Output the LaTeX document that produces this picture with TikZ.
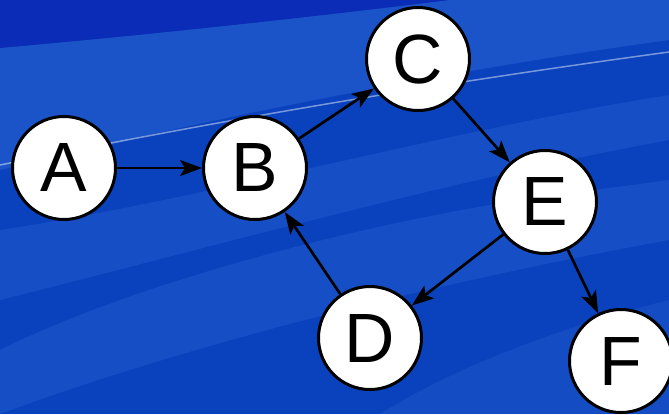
\documentclass[tikz,border=0pt]{standalone}
\usepackage{fontspec}
\setmainfont{Liberation Sans}
\usetikzlibrary{arrows.meta}
\definecolor{bgdark}{RGB}{10,44,182}
\definecolor{bgmid}{RGB}{10,66,190}
\definecolor{bglight}{RGB}{60,120,220}
\begin{document}
\begin{tikzpicture}[x=1bp,y=-1bp,
  vert/.style={circle,draw=black,fill=white,line width=3bp,minimum size=103bp,inner sep=0pt,
    font=\fontsize{70}{70}\selectfont},
  arr/.style={line width=2.7bp,-{Stealth[length=22bp,width=16bp,inset=5bp]}}]
\useasboundingbox (0,0) rectangle (669,414);
% background
\fill[bgmid] (0,0) rectangle (669,414);
\fill[bgdark] (0,0) -- (0,48) .. controls (150,35) and (330,15) .. (450,0) -- cycle;
\fill[bglight,opacity=0.35] (0,48) .. controls (150,35) and (330,15) .. (450,0) -- (669,0) -- (669,40)
  .. controls (450,70) and (200,120) .. (0,170) -- cycle;
\fill[bglight,opacity=0.25] (0,230) .. controls (200,200) and (450,130) .. (669,95) -- (669,140)
  .. controls (450,180) and (200,250) .. (0,300) -- cycle;
\fill[bglight,opacity=0.25] (0,350) .. controls (120,290) and (330,230) .. (520,200) -- (669,180) -- (669,240)
  .. controls (450,280) and (200,340) .. (0,414) -- cycle;
\fill[bglight,opacity=0.2] (669,300) .. controls (550,330) and (450,370) .. (380,414) -- (669,414) -- cycle;
\draw[white,opacity=0.45,line width=1.5bp] (0,165) .. controls (110,143) and (330,98) .. (669,52);
% nodes
\node[vert] (A) at (64,168) {A};
\node[vert] (B) at (255,168) {B};
\node[vert] (C) at (418,59) {C};
\node[vert] (E) at (545,202) {E};
\node[vert] (D) at (370,338) {D};
\node[vert] (F) at (621,361) {F};
% edges
\draw[arr] (A) -- (B);
\draw[arr] (B) -- (C);
\draw[arr] (C) -- (E);
\draw[arr] (E) -- (D);
\draw[arr] (D) -- (B);
\draw[arr] (E) -- (F);
\end{tikzpicture}
\end{document}
